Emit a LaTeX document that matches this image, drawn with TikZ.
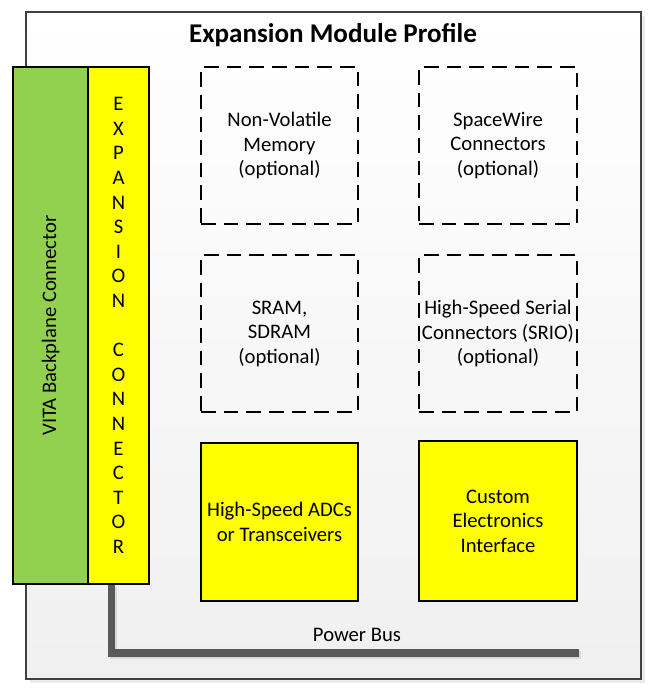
\documentclass[tikz,border=0pt]{standalone}
\usepackage{fontspec}
\setmainfont{Carlito}
\usepackage{tikz}
\usepackage{xcolor}
\usetikzlibrary{positioning}
\definecolor{vitagreen}{HTML}{92D050}
\definecolor{busgray}{HTML}{595959}
\definecolor{framegray}{HTML}{404040}
\definecolor{partyellow}{HTML}{FFFF00}

\begin{document}
\begin{tikzpicture}[x=0.75pt,y=-0.75pt,
    txt/.style={font=\fontsize{15.5}{18.4}\selectfont,align=center},
    optbox/.style={txt,draw,line width=0.8pt,dash pattern=on 11pt off 6pt,minimum width=117.75pt,minimum height=117.75pt,inner sep=0pt},
    partbox/.style={txt,draw,line width=0.8pt,fill=partyellow,minimum width=117.75pt,inner sep=0pt}]
            \useasboundingbox (0,0) rectangle (659,692);
            % module frame
            \fill[black!8] (30,16) rectangle (645,683);
            \draw[framegray,line width=0.8pt,top color=white,bottom color=black!6] (26,12) rectangle (641,679);
            \node[font=\fontsize{20.3}{24}\selectfont\bfseries] (title) at (333,35) {Expansion Module Profile};
            % connectors on the left
            \node[draw,line width=0.8pt,fill=vitagreen,minimum width=56.25pt,minimum height=387.75pt,inner sep=0pt] (vita) at (50.5,325.5) {};
            \node[txt,rotate=90] (vitatext) at (vita.center) {VITA Backplane Connector};
            \node[draw,line width=0.8pt,fill=partyellow,minimum width=45.75pt,minimum height=387.75pt,inner sep=0pt] (exp) at (118.5,325.5) {};
            \node[txt,font=\fontsize{15.5}{18.45}\selectfont] (exptext) at (exp.center) {E\\X\\P\\A\\N\\S\\I\\O\\N\\ \\C\\O\\N\\N\\E\\C\\T\\O\\R};
            % optional parts
            \node[optbox] (nvm) at (279.5,145.5) {Non-Volatile\\Memory\\(optional)};
            \node[optbox,minimum width=118.5pt] (spw) at (498,145.5) {SpaceWire\\Connectors\\(optional)};
            \node[optbox] (sram) at (279.5,333.5) {SRAM,\\SDRAM\\(optional)};
            \node[optbox,minimum width=118.5pt] (srio) at (498,333.5) {High-Speed Serial\\Connectors (SRIO)\\(optional)};
            % fitted parts
            \node[partbox,minimum height=118.5pt] (adc) at (279.5,522) {High-Speed ADCs\\or Transceivers};
            \node[partbox,minimum width=118.5pt,minimum height=120pt] (cei) at (498,521) {Custom\\Electronics\\Interface};
            % power bus
            \coordinate (busend) at (579,653);
            \draw[black!15,line width=5.6pt] ([xshift=1.5pt]exp.south) ++(-7,2) |- ([xshift=1.5pt,yshift=-1.5pt]busend);
            \draw[busgray,line width=5.6pt] (exp.south) ++(-7,0) |- (busend);
            \node[txt] (bustext) at (357,635) {Power Bus};
        \end{tikzpicture}
\end{document}
